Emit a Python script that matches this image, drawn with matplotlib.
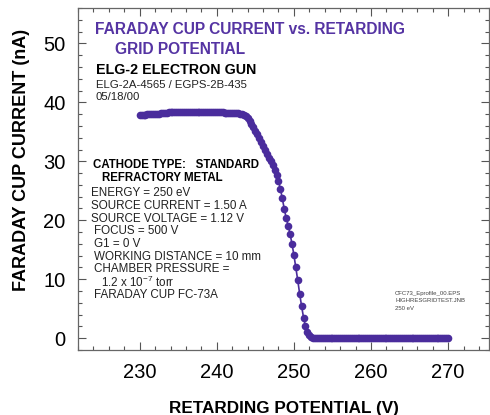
import numpy as np
import matplotlib
matplotlib.use("Agg")
import matplotlib.pyplot as plt
from matplotlib.ticker import MultipleLocator

# sweep: retarding grid potential, 0.25 V steps from 230 V to 270 V
v_start = 230.0
v_step = 0.25

# faraday cup current (nA)
current_top = [
    37.8, 37.8, 37.9, 37.9, 38.0, 38.0, 38.0, 38.1, 38.1, 38.1, 38.1, 38.2,
    38.2, 38.2, 38.2, 38.3, 38.3, 38.3, 38.3, 38.4, 38.4, 38.4, 38.4, 38.4,
    38.4, 38.4, 38.4, 38.4, 38.4, 38.4, 38.4, 38.4, 38.4, 38.4, 38.4, 38.4,
    38.3, 38.3, 38.3, 38.3, 38.3, 38.3, 38.3, 38.3, 38.2, 38.2, 38.2, 38.2,
    38.2, 38.2, 38.2, 38.2, 38.1, 38.0, 37.8, 37.6,
]
current_fall = [
    37.3, 36.9, 36.4, 35.8, 35.2, 34.6, 34.0, 33.3, 32.6, 31.9, 31.2, 30.6,
    30.0, 29.3, 28.5, 27.6, 26.6, 25.3, 23.7, 21.9, 20.4, 19.1, 17.7, 16.0,
    14.1, 12.0, 9.8, 7.5, 5.4, 3.5, 2.0, 1.0, 0.5, 0.2, 0.05,
]
current_tail = [
    0.0, 0.0, 0.0, 0.0, 0.0, 0.0, 0.0, 0.0, 0.0, 0.0, 0.0, 0.0, 0.0, 0.0,
    0.0, 0.0, 0.0, 0.0, 0.0, 0.0, 0.0, 0.0, 0.0, 0.0, 0.0, 0.0, 0.0, 0.0,
    0.0, 0.0, 0.0, 0.0, 0.0, 0.0, 0.0, 0.0, 0.0, 0.0, 0.0, 0.0, 0.0, 0.0,
    0.0, 0.0, 0.0, 0.0, 0.0, 0.0, 0.0, 0.0, 0.0, 0.0, 0.0, 0.0, 0.0, 0.0,
    0.0, 0.0, 0.0, 0.0, 0.0, 0.0, 0.0, 0.0, 0.0, 0.0, 0.0, 0.0, 0.0, 0.0,
]
current = np.array(current_top + current_fall + current_tail)
voltage = v_start + v_step * np.arange(len(current))

x_ticks = [230, 240, 250, 260, 270]
y_ticks = [0, 10, 20, 30, 40, 50]

title_lines = ["FARADAY CUP CURRENT vs. RETARDING", "GRID POTENTIAL"]
cathode_lines = ["CATHODE TYPE:   STANDARD", "REFRACTORY METAL"]
info_lines = [
    "ENERGY = 250 eV",
    "SOURCE CURRENT = 1.50 A",
    "SOURCE VOLTAGE = 1.12 V",
    "FOCUS = 500 V",
    "G1 = 0 V",
    "WORKING DISTANCE = 10 mm",
    "CHAMBER PRESSURE =",
    r"1.2 x 10$^{-7}$ torr",
    "FARADAY CUP FC-73A",
]
info_x = [91, 91, 91, 94, 94, 94, 94, 101, 94]
file_lines = ["CFC73_Eprofile_00.EPS", "HIGHRESGRIDTEST.JNB", "250 eV"]

purple = "#4a2c9c"
title_purple = "#5534a3"

plt.rcParams["font.family"] = ["Liberation Sans", "DejaVu Sans"]
plt.rcParams["mathtext.fontset"] = "custom"
plt.rcParams["mathtext.rm"] = "Liberation Sans"

W, H = 490, 415
fig = plt.figure(figsize=(W / 100, H / 100), dpi=100)
ax = fig.add_axes([78 / W, 1 - 350 / H, 411 / W, 342 / H])

ax.plot(voltage, current, "-", color=purple, lw=1.2, marker="o",
        markersize=5.5, markeredgewidth=0, zorder=3)

ax.set_xlim(222, 275.3)
ax.set_ylim(-2, 56)
ax.set_xticks(x_ticks)
ax.set_yticks(y_ticks)
ax.xaxis.set_minor_locator(MultipleLocator(2))
ax.yaxis.set_minor_locator(MultipleLocator(2))
ax.tick_params(which="both", direction="in", top=True, right=True,
               color="#555555", width=0.8)
ax.tick_params(which="major", length=6, labelsize=14.5, pad=9)
ax.tick_params(which="minor", length=3)
for s in ax.spines.values():
    s.set_color("#666666")
    s.set_linewidth(0.9)

ax.set_xlabel("RETARDING POTENTIAL (V)", fontsize=12.3, fontweight="bold",
              va="center")
ax.xaxis.set_label_coords(0.5, (350 - 408) / 342)
ax.set_ylabel("FARADAY CUP CURRENT (nA)", fontsize=13, fontweight="bold",
              va="center")
ax.yaxis.set_label_coords((21.5 - 78) / 411, (350 - 160) / 342)


def px(x, y):
    return x / W, 1 - y / H


fig.text(*px(95, 30), title_lines[0], color=title_purple, fontsize=11.2,
         fontweight="bold", va="center")
fig.text(*px(115, 49), title_lines[1], color=title_purple, fontsize=11.2,
         fontweight="bold", va="center")
fig.text(*px(96, 70), "ELG-2 ELECTRON GUN", fontsize=10.3, fontweight="bold",
         va="center")
fig.text(*px(96, 85), "ELG-2A-4565 / EGPS-2B-435", fontsize=8.2, va="center",
         color="#222222")
fig.text(*px(96, 97), "05/18/00", fontsize=8.2, va="center", color="#222222")

fig.text(*px(93, 165), cathode_lines[0], fontsize=8.3, fontweight="bold",
         va="center")
fig.text(*px(102, 178), cathode_lines[1], fontsize=8.3, fontweight="bold",
         va="center")
for i, line in enumerate(info_lines):
    fig.text(*px(info_x[i], 193 + i * 12.75), line, fontsize=8.4,
             va="center", color="#222222")

for i, line in enumerate(file_lines):
    fig.text(*px(395, 293 + i * 7.5), line, fontsize=4.3, va="center",
             color="#444444")

fig.savefig("out.png", dpi=100)
